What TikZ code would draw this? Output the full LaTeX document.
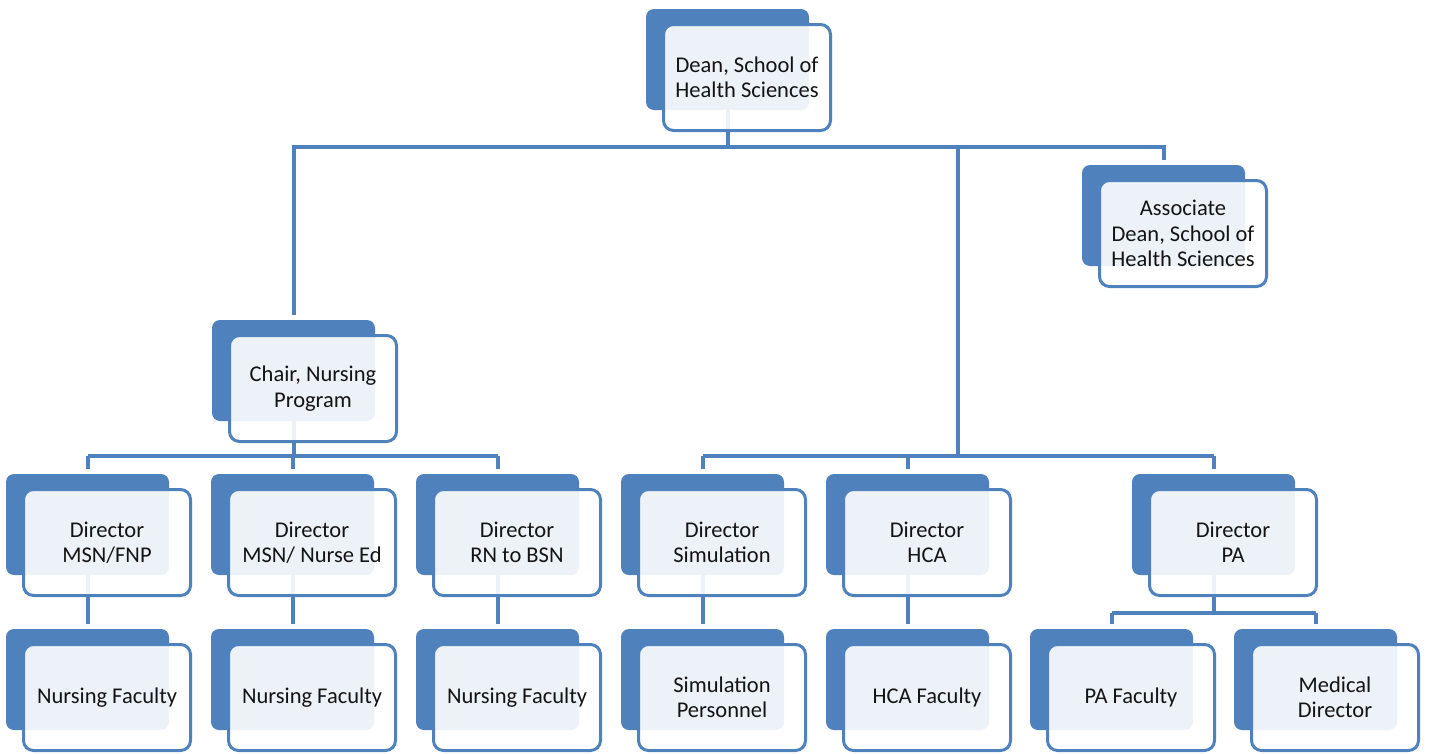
\documentclass[tikz,border=0pt]{standalone}
\usepackage{fontspec}
\setmainfont{Carlito}
\usetikzlibrary{backgrounds}
\definecolor{acc}{HTML}{4F81BD}
\newcommand\orgunit[4]{%
  \node[backbox] (#1B) at (#2,#3) {};
  \node[frontbox] (#1) at (#2+17.5,#3+15.5) {#4};
}
\begin{document}
\begin{tikzpicture}[x=1pt,y=-1pt,
  backbox/.style={draw=none, fill=acc, rounded corners=8pt, minimum width=163pt,
    minimum height=101pt, inner sep=0pt, outer sep=0pt, anchor=north west},
  frontbox/.style={draw=acc, line width=3pt, fill=white, fill opacity=0.9, text opacity=1,
    rounded corners=10pt, minimum width=167pt, minimum height=106pt, inner sep=0pt,
    outer sep=0pt, anchor=north west, align=center, text=black!92,
    font=\fontsize{22.5}{25.5}\selectfont},
  conn/.style={draw=acc, line width=4pt},
  gapend/.style={shorten >=5pt}]
\useasboundingbox (0,0) rectangle (1430,753);

\orgunit{dean}{646}{9}{Dean, School of\\Health Sciences}
\orgunit{assoc}{1082}{165}{Associate\\Dean, School of\\Health Sciences}
\orgunit{chair}{212}{320}{Chair, Nursing\\Program}

\orgunit{fnp}{6}{474}{Director\\MSN/FNP}
\orgunit{ned}{211}{474}{Director\\MSN/ Nurse Ed}
\orgunit{rn}{416}{474}{Director\\RN to BSN}
\orgunit{sim}{621}{474}{Director\\Simulation}
\orgunit{hca}{826}{474}{Director\\HCA}
\orgunit{pa}{1132}{474}{Director\\PA}

\orgunit{nfa}{6}{629}{Nursing Faculty}
\orgunit{nfb}{211}{629}{Nursing Faculty}
\orgunit{nfc}{416}{629}{Nursing Faculty}
\orgunit{simp}{621}{629}{Simulation\\Personnel}
\orgunit{hcaf}{826}{629}{HCA Faculty}
\orgunit{paf}{1030}{629}{PA Faculty}
\orgunit{med}{1234}{629}{Medical\\Director}

\coordinate (topbus) at (0,147);
\coordinate (chairbus) at (0,456);
\coordinate (rightbus) at (0,456);
\coordinate (pabus) at (0,613);
\coordinate (midtop) at (958,147);
\coordinate (midbot) at (958,456);

\begin{pgfonlayer}{background}
  % top tier
  \draw[conn] (deanB.center) -- (deanB.center |- topbus);
  \draw[conn, line cap=rect] (chairB.center |- topbus) -- (assocB.center |- topbus);
  \draw[conn, gapend] (chairB.center |- topbus) -- (chairB.north);
  \draw[conn, gapend] (assocB.center |- topbus) -- (assocB.north);
  \draw[conn] (midtop) -- (midbot);
  % nursing group
  \draw[conn] (chairB.center) -- (chairB.center |- chairbus);
  \draw[conn] (fnpB.center |- chairbus) -- (rnB.center |- chairbus);
  \draw[conn, gapend] (fnpB.center |- chairbus) -- (fnpB.north);
  \draw[conn, gapend] (nedB.center |- chairbus) -- (nedB.north);
  \draw[conn, gapend] (rnB.center |- chairbus) -- (rnB.north);
  % right group
  \draw[conn] (simB.center |- rightbus) -- (paB.center |- rightbus);
  \draw[conn, gapend] (simB.center |- rightbus) -- (simB.north);
  \draw[conn, gapend] (hcaB.center |- rightbus) -- (hcaB.north);
  \draw[conn, gapend] (paB.center |- rightbus) -- (paB.north);
  % to row 4
  \draw[conn, gapend] (fnpB.center) -- (nfaB.north);
  \draw[conn, gapend] (nedB.center) -- (nfbB.north);
  \draw[conn, gapend] (rnB.center) -- (nfcB.north);
  \draw[conn, gapend] (simB.center) -- (simpB.north);
  \draw[conn, gapend] (hcaB.center) -- (hcafB.north);
  \draw[conn] (paB.center) -- (paB.center |- pabus);
  \draw[conn] (pafB.center |- pabus) -- (medB.center |- pabus);
  \draw[conn, gapend] (pafB.center |- pabus) -- (pafB.north);
  \draw[conn, gapend] (medB.center |- pabus) -- (medB.north);
\end{pgfonlayer}
\end{tikzpicture}
\end{document}
